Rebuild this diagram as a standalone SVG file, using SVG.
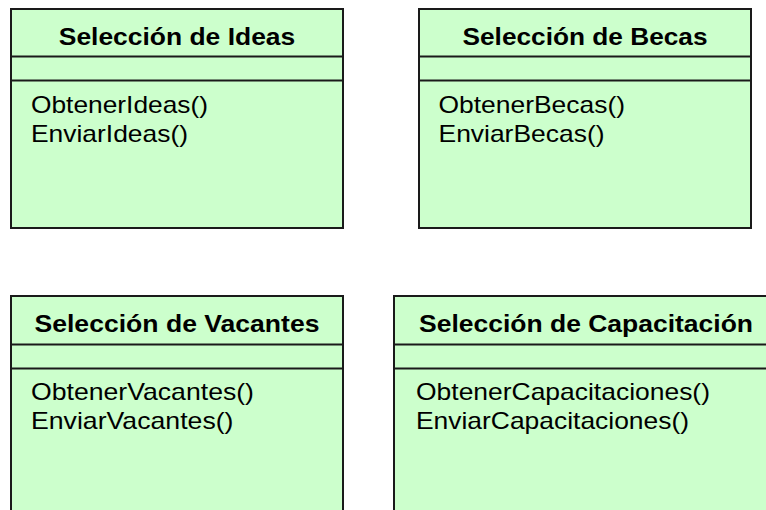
<svg xmlns="http://www.w3.org/2000/svg" width="766" height="510" viewBox="0 0 766 510">
<style>
.box{fill:#CCFFCC;stroke:#1a1a1a;stroke-width:2}
.div{stroke:#1a1a1a;stroke-width:2}
.title{font-family:"Liberation Sans",Arial,sans-serif;font-weight:bold;font-size:24px;fill:#000;text-anchor:middle}
.op{font-family:"Liberation Sans",Arial,sans-serif;font-size:24px;fill:#000}
</style>
<rect width="766" height="510" fill="#fff"/>
<g id="seleccion-ideas">
<rect class="box" x="11" y="9" width="332" height="219"/>
<line class="div" x1="11" y1="56.5" x2="343" y2="56.5"/>
<line class="div" x1="11" y1="80.5" x2="343" y2="80.5"/>
<text class="title" x="177" y="45" textLength="236.5" lengthAdjust="spacingAndGlyphs">Selección de Ideas</text>
<text class="op" x="31" y="112.5" textLength="177" lengthAdjust="spacingAndGlyphs">ObtenerIdeas()</text>
<text class="op" x="31" y="141.5" textLength="157" lengthAdjust="spacingAndGlyphs">EnviarIdeas()</text>
</g>
<g id="seleccion-becas">
<rect class="box" x="419" y="9" width="332" height="219"/>
<line class="div" x1="419" y1="56.5" x2="751" y2="56.5"/>
<line class="div" x1="419" y1="80.5" x2="751" y2="80.5"/>
<text class="title" x="585" y="45" textLength="245" lengthAdjust="spacingAndGlyphs">Selección de Becas</text>
<text class="op" x="438.5" y="112.5" textLength="186.5" lengthAdjust="spacingAndGlyphs">ObtenerBecas()</text>
<text class="op" x="438.5" y="141.5" textLength="166" lengthAdjust="spacingAndGlyphs">EnviarBecas()</text>
</g>
<g id="seleccion-vacantes">
<rect class="box" x="11" y="296" width="332" height="230"/>
<line class="div" x1="11" y1="344.5" x2="343" y2="344.5"/>
<line class="div" x1="11" y1="368.5" x2="343" y2="368.5"/>
<text class="title" x="177" y="332" textLength="285" lengthAdjust="spacingAndGlyphs">Selección de Vacantes</text>
<text class="op" x="31" y="399.5" textLength="223" lengthAdjust="spacingAndGlyphs">ObtenerVacantes()</text>
<text class="op" x="31" y="428.5" textLength="202.5" lengthAdjust="spacingAndGlyphs">EnviarVacantes()</text>
</g>
<g id="seleccion-capacitacion">
<rect class="box" x="394" y="296" width="384" height="230"/>
<line class="div" x1="394" y1="344.5" x2="778" y2="344.5"/>
<line class="div" x1="394" y1="368.5" x2="778" y2="368.5"/>
<text class="title" x="586" y="332" textLength="334" lengthAdjust="spacingAndGlyphs">Selección de Capacitación</text>
<text class="op" x="416" y="399.5" textLength="294" lengthAdjust="spacingAndGlyphs">ObtenerCapacitaciones()</text>
<text class="op" x="416" y="428.5" textLength="273" lengthAdjust="spacingAndGlyphs">EnviarCapacitaciones()</text>
</g>
<g id="connectors"/>
</svg>
